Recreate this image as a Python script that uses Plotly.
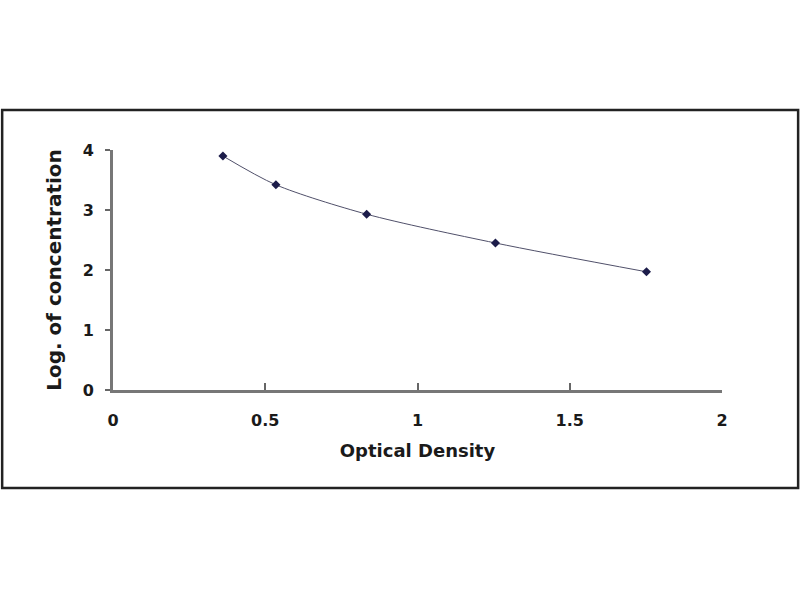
import plotly.graph_objects as go

# standard curve points
optical_density = [0.361, 0.535, 0.833, 1.256, 1.752]
log_conc = [3.90, 3.42, 2.93, 2.45, 1.97]

x_ticks = [0, 0.5, 1, 1.5, 2]
x_tick_text = ["0", "0.5", "1", "1.5", "2"]
y_ticks = [0, 1, 2, 3, 4]

fig = go.Figure()

fig.add_trace(go.Scatter(
    x=optical_density,
    y=log_conc,
    mode="lines+markers",
    line=dict(color="#50506a", width=1, shape="spline", smoothing=0.8),
    marker=dict(symbol="diamond", size=7, color="#1c1c4a"),
    showlegend=False,
))

# outer frame round the chart
fig.add_shape(type="rect", xref="paper", yref="paper",
              x0=-0.182, x1=1.125, y0=-0.408, y1=1.167,
              line=dict(color="#222222", width=2.5))

tick_font = dict(family="DejaVu Sans", size=16, color="#1a1a1a", weight="bold")
xtitle_font = dict(family="DejaVu Sans", size=18, color="#1a1a1a", weight="bold")
ytitle_font = dict(family="DejaVu Sans", size=20, color="#1a1a1a", weight="bold")

fig.update_xaxes(
    range=[0, 2],
    tickvals=x_ticks,
    ticktext=x_tick_text,
    showgrid=False,
    zeroline=False,
    showline=True,
    linecolor="#777777",
    linewidth=3,
    ticks="inside",
    ticklen=7,
    tickwidth=2,
    tickcolor="#666666",
    tickfont=tick_font,
    ticklabelstandoff=14,
    title=dict(text="Optical Density", font=xtitle_font, standoff=16),
)
fig.update_yaxes(
    range=[0, 4],
    tickvals=y_ticks,
    showgrid=False,
    zeroline=False,
    showline=True,
    linecolor="#777777",
    linewidth=3,
    ticks="outside",
    ticklen=5,
    tickwidth=2,
    tickcolor="#666666",
    tickfont=tick_font,
    ticklabelstandoff=8,
    title=dict(text="Log. of concentration", font=ytitle_font, standoff=16),
)

fig.update_layout(
    width=800,
    height=600,
    margin=dict(l=113, r=78, t=150, b=210),
    paper_bgcolor="white",
    plot_bgcolor="white",
    font=dict(family="DejaVu Sans", color="#1a1a1a"),
)

# drop the page margin so the 800x600 figure fills the window
fig.write_html("out.html", config={"displayModeBar": False},
               post_script="document.body.style.margin='0';")
